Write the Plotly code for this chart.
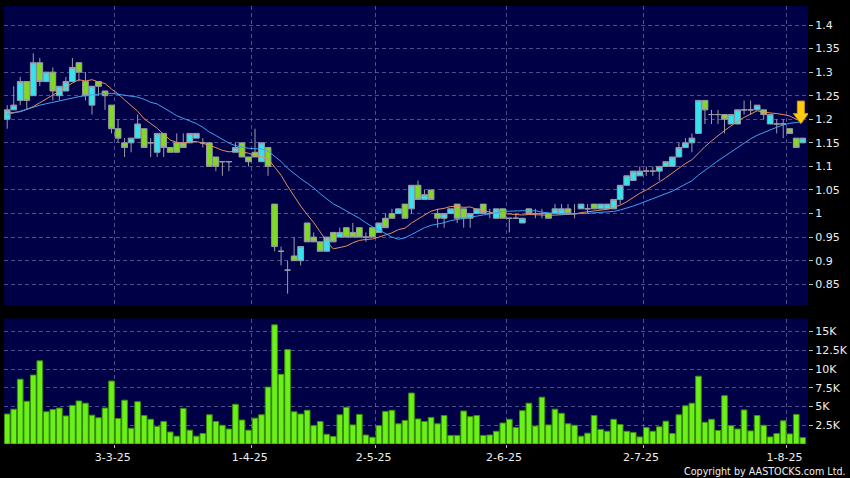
import pandas as pd
import plotly.graph_objects as go
from plotly.subplots import make_subplots

# ---------------- data ----------------
holidays = ['2025-04-04', '2025-04-18', '2025-04-21', '2025-05-01', '2025-05-05', '2025-07-01']
dates = [d for d in pd.bdate_range('2025-02-06', '2025-08-05') if d.strftime('%Y-%m-%d') not in holidays]

opens = [1.20, 1.22, 1.24, 1.28, 1.25, 1.32, 1.28, 1.30, 1.25, 1.26,
         1.28, 1.32, 1.28, 1.23, 1.28, 1.26, 1.23, 1.18, 1.15, 1.15,
         1.16, 1.18, 1.15, 1.13, 1.17, 1.14, 1.15, 1.15, 1.15, 1.16,
         1.15, 1.15, 1.12, 1.11, 1.11, 1.13, 1.15, 1.12, 1.13, 1.11,
         1.14, 1.02, 0.92, 0.88, 0.91, 0.90, 0.98, 0.95, 0.94, 0.92,
         0.96, 0.95, 0.97, 0.96, 0.97, 0.95, 0.97, 0.96, 0.99, 1.00,
         1.00, 1.02, 1.01, 1.06, 1.03, 1.05, 1.00, 0.99, 1.00, 1.02,
         1.01, 0.99, 1.00, 1.02, 1.00, 0.99, 1.01, 0.99, 0.99, 0.98,
         1.01, 1.00, 1.00, 1.00, 1.00, 1.00, 1.01, 1.00, 1.01, 1.01,
         1.02, 1.01, 1.01, 1.01, 1.03, 1.06, 1.07, 1.08, 1.09, 1.09,
         1.09, 1.10, 1.10, 1.12, 1.14, 1.15, 1.17, 1.24, 1.21, 1.21,
         1.21, 1.19, 1.19, 1.22, 1.22, 1.22, 1.22, 1.19, 1.19, 1.19,
         1.18, 1.16, 1.15]

highs = [1.23, 1.27, 1.29, 1.28, 1.34, 1.33, 1.30, 1.31, 1.27, 1.29,
         1.33, 1.32, 1.30, 1.27, 1.28, 1.26, 1.23, 1.20, 1.16, 1.16,
         1.21, 1.18, 1.16, 1.17, 1.17, 1.14, 1.17, 1.17, 1.17, 1.17,
         1.16, 1.15, 1.12, 1.11, 1.11, 1.15, 1.15, 1.12, 1.18, 1.15,
         1.14, 1.02, 0.93, 0.90, 0.95, 0.93, 0.98, 0.96, 0.94, 0.95,
         0.96, 0.97, 0.97, 0.98, 0.97, 0.96, 0.97, 0.98, 1.00, 1.01,
         1.01, 1.02, 1.06, 1.07, 1.05, 1.05, 1.01, 1.00, 1.01, 1.02,
         1.01, 1.00, 1.01, 1.02, 1.01, 1.01, 1.01, 0.99, 1.00, 0.99,
         1.01, 1.01, 1.01, 1.00, 1.02, 1.02, 1.02, 1.02, 1.02, 1.02,
         1.02, 1.02, 1.02, 1.03, 1.06, 1.08, 1.09, 1.10, 1.10, 1.10,
         1.10, 1.11, 1.12, 1.15, 1.16, 1.17, 1.24, 1.24, 1.22, 1.22,
         1.21, 1.21, 1.22, 1.24, 1.24, 1.23, 1.22, 1.21, 1.20, 1.20,
         1.18, 1.16, 1.16]

lows = [1.18, 1.22, 1.23, 1.22, 1.25, 1.27, 1.28, 1.24, 1.24, 1.26,
        1.28, 1.28, 1.24, 1.21, 1.25, 1.22, 1.17, 1.15, 1.12, 1.13,
        1.16, 1.14, 1.12, 1.12, 1.12, 1.13, 1.13, 1.14, 1.15, 1.16,
        1.14, 1.10, 1.09, 1.08, 1.09, 1.13, 1.12, 1.10, 1.12, 1.11,
        1.08, 0.92, 0.89, 0.83, 0.90, 0.89, 0.94, 0.94, 0.92, 0.92,
        0.94, 0.95, 0.95, 0.95, 0.95, 0.94, 0.95, 0.96, 0.97, 0.99,
        1.00, 0.99, 1.00, 1.03, 1.03, 1.03, 0.97, 0.97, 1.00, 0.98,
        0.97, 0.97, 1.00, 1.00, 0.99, 0.99, 0.99, 0.96, 0.99, 0.98,
        1.00, 0.99, 0.99, 0.99, 1.00, 1.00, 1.00, 0.99, 1.01, 1.00,
        1.01, 1.01, 1.01, 1.01, 1.02, 1.06, 1.07, 1.08, 1.08, 1.08,
        1.07, 1.10, 1.10, 1.12, 1.14, 1.13, 1.17, 1.19, 1.19, 1.19,
        1.17, 1.19, 1.19, 1.21, 1.21, 1.22, 1.20, 1.19, 1.17, 1.16,
        1.17, 1.14, 1.15]

closes = [1.22, 1.23, 1.28, 1.24, 1.32, 1.28, 1.30, 1.26, 1.27, 1.28,
          1.31, 1.30, 1.25, 1.27, 1.27, 1.25, 1.18, 1.16, 1.14, 1.16,
          1.19, 1.14, 1.15, 1.17, 1.14, 1.13, 1.13, 1.14, 1.17, 1.17,
          1.15, 1.10, 1.10, 1.11, 1.11, 1.14, 1.12, 1.11, 1.12, 1.15,
          1.10, 0.93, 0.92, 0.88, 0.90, 0.93, 0.94, 0.94, 0.92, 0.95,
          0.94, 0.96, 0.95, 0.95, 0.95, 0.95, 0.95, 0.98, 0.97, 0.99,
          1.01, 0.99, 1.06, 1.03, 1.04, 1.03, 0.99, 1.00, 1.01, 0.99,
          0.99, 1.00, 1.01, 1.00, 1.00, 1.01, 0.99, 0.99, 0.99, 0.99,
          1.00, 1.00, 1.00, 0.99, 1.01, 1.01, 1.00, 1.00, 1.02, 1.01,
          1.01, 1.02, 1.02, 1.03, 1.06, 1.08, 1.09, 1.09, 1.09, 1.09,
          1.10, 1.11, 1.12, 1.14, 1.15, 1.16, 1.24, 1.22, 1.21, 1.21,
          1.20, 1.21, 1.22, 1.22, 1.22, 1.23, 1.21, 1.21, 1.19, 1.19,
          1.17, 1.14, 1.16]

volumes = [4000, 4650, 8650, 5700, 9200, 11100, 4300, 4600, 4800, 3750,
           5150, 5750, 5450, 3850, 3500, 4800, 8400, 3400, 5850, 2100,
           5650, 3800, 3300, 2350, 3000, 1600, 1050, 4750, 1850, 1050,
           1400, 3900, 3000, 2500, 2000, 5300, 3200, 1850, 3450, 3900,
           7600, 15900, 9300, 12600, 4300, 4000, 4500, 2450, 3000, 1300,
           1000, 3900, 4900, 2550, 3950, 1200, 900, 2450, 4350, 4500,
           2700, 3150, 6800, 3350, 3000, 3550, 2700, 3800, 1150, 1150,
           4400, 3650, 3800, 1150, 1200, 1700, 2800, 3300, 2200, 4450,
           5450, 2400, 6250, 2550, 4650, 4100, 2700, 2500, 1050, 1450,
           3800, 1950, 1700, 3300, 2600, 1700, 1550, 950, 2200, 1700,
           2300, 3050, 1400, 3900, 5100, 5450, 9050, 2900, 3300, 1800,
           6450, 2450, 2000, 4550, 1750, 3800, 2500, 950, 1400, 3100,
           1350, 3950, 850]

# moving-average values before the window is full
ma10_head = [1.213, 1.214, 1.216, 1.221, 1.227, 1.235, 1.243, 1.252, 1.260]
ma20_head = [1.210, 1.213, 1.217, 1.221, 1.226, 1.230, 1.233, 1.236, 1.240, 1.243,
             1.246, 1.248, 1.250, 1.252, 1.254, 1.255, 1.255, 1.253, 1.251]

tick_dates = ['2025-03-03', '2025-04-01', '2025-05-02', '2025-06-02', '2025-07-02', '2025-08-01']
tick_labels = ['3-3-25', '1-4-25', '2-5-25', '2-6-25', '2-7-25', '1-8-25']
price_ticks = [0.85, 0.9, 0.95, 1.0, 1.05, 1.1, 1.15, 1.2, 1.25, 1.3, 1.35, 1.4]
price_tick_labels = ['0.85', '0.9', '0.95', '1', '1.05', '1.1', '1.15', '1.2', '1.25', '1.3', '1.35', '1.4']
vol_ticks = [2500, 5000, 7500, 10000, 12500, 15000]
vol_tick_labels = ['2.5K', '5K', '7.5K', '10K', '12.5K', '15K']

# ---------------- derived ----------------
n = len(closes)
x = list(range(n))
date_str = [d.strftime('%Y-%m-%d') for d in dates]
cs = pd.Series(closes)
ma10 = cs.rolling(10).mean().tolist()
ma20 = cs.rolling(20).mean().tolist()
ma10[:len(ma10_head)] = ma10_head
ma20[:len(ma20_head)] = ma20_head
tick_pos = [date_str.index(d) - 0.5 for d in tick_dates]

# ---------------- styling ----------------
BG = '#000000'
PLOT_BG = '#000046'
GRID = 'rgba(130,130,190,0.6)'
TXT = '#EEEEEE'
FONT = 'DejaVu Sans'
CYAN = '#33E3EE'
GREEN = '#7EDB22'
WICK = '#9C9CA8'
VOL = '#6CF01A'

fig = make_subplots(rows=2, cols=1, shared_xaxes=False, vertical_spacing=0.0)

fig.add_trace(go.Candlestick(
    x=x, open=opens, high=highs, low=lows, close=closes,
    increasing=dict(fillcolor=CYAN, line=dict(color=WICK, width=1)),
    decreasing=dict(fillcolor=GREEN, line=dict(color=WICK, width=1)),
    whiskerwidth=0, text=date_str, hoverinfo='text+y', showlegend=False,
), row=1, col=1)

fig.add_trace(go.Scatter(x=x, y=ma10, mode='lines', line=dict(color='#E49064', width=1),
                         hoverinfo='skip', showlegend=False), row=1, col=1)
fig.add_trace(go.Scatter(x=x, y=ma20, mode='lines', line=dict(color='#3FA3F0', width=1),
                         hoverinfo='skip', showlegend=False), row=1, col=1)

fig.add_trace(go.Bar(x=x, y=volumes, marker=dict(color=VOL, line=dict(color='#3A8E08', width=1)),
                     text=date_str, hoverinfo='text+y', textposition='none', showlegend=False),
              row=2, col=1)

# yellow down arrow at the end of the moving averages
fig.add_shape(type='path', xref='x', yref='y', xsizemode='pixel', ysizemode='pixel',
              xanchor=n - 1.3, yanchor=ma10[-1],
              path='M -3.5 21 L 3.5 21 L 3.5 8.5 L 7.5 8.5 L 0 -1.5 L -7.5 8.5 L -3.5 8.5 Z',
              fillcolor='#FFCC11', line=dict(color='#D89A00', width=1))

plot_top = 6
plot_bottom = 444
H = 478
total = plot_bottom - plot_top
price_dom = [(plot_bottom - 305) / total, 1.0]
vol_dom = [0.0, (plot_bottom - 318.5) / total]

axis_common = dict(showline=False, zeroline=False, tickfont=dict(family=FONT, size=11, color=TXT),
                   gridcolor=GRID, griddash='4px,3px', gridwidth=1)

fig.update_layout(
    width=850, height=H,
    margin=dict(l=4, r=42, t=plot_top, b=H - plot_bottom, autoexpand=False),
    paper_bgcolor=BG, plot_bgcolor=PLOT_BG,
    boxgap=0.12, boxgroupgap=0.0, bargap=0.13,
    hovermode='closest',
    font=dict(family=FONT, color=TXT),
    xaxis=dict(axis_common, domain=[0, 1], range=[-0.49, 122.8], tickvals=tick_pos, ticktext=tick_labels,
               showticklabels=False, ticks='', rangeslider=dict(visible=False), showgrid=True, anchor='y'),
    yaxis=dict(axis_common, domain=price_dom, range=[0.806, 1.4403], side='right',
               tickvals=price_ticks, ticktext=price_tick_labels, ticks='outside', ticklen=4,
               tickcolor='#BBBBBB', anchor='x'),
    xaxis2=dict(axis_common, domain=[0, 1], range=[-0.49, 122.8], tickvals=tick_pos, ticktext=tick_labels,
                ticks='outside', ticklen=3, tickcolor='#BBBBBB', showgrid=True, anchor='y2',
                ticklabelshift=-2),
    yaxis2=dict(axis_common, domain=vol_dom, range=[0, 16750], side='right',
                tickvals=vol_ticks, ticktext=vol_tick_labels, ticks='outside', ticklen=4,
                tickcolor='#BBBBBB', anchor='x2'),
)

fig.add_annotation(text='Copyright by AASTOCKS.com Ltd.', xref='paper', yref='paper',
                   x=(848 - 4) / 804, y=(plot_bottom - 471) / total, xanchor='right', yanchor='middle',
                   showarrow=False, font=dict(family=FONT, size=9.6, color=TXT))

fig.write_html('out.html', config={'displayModeBar': False},
               post_script="document.body.style.margin='0';document.body.style.background='#000';")
